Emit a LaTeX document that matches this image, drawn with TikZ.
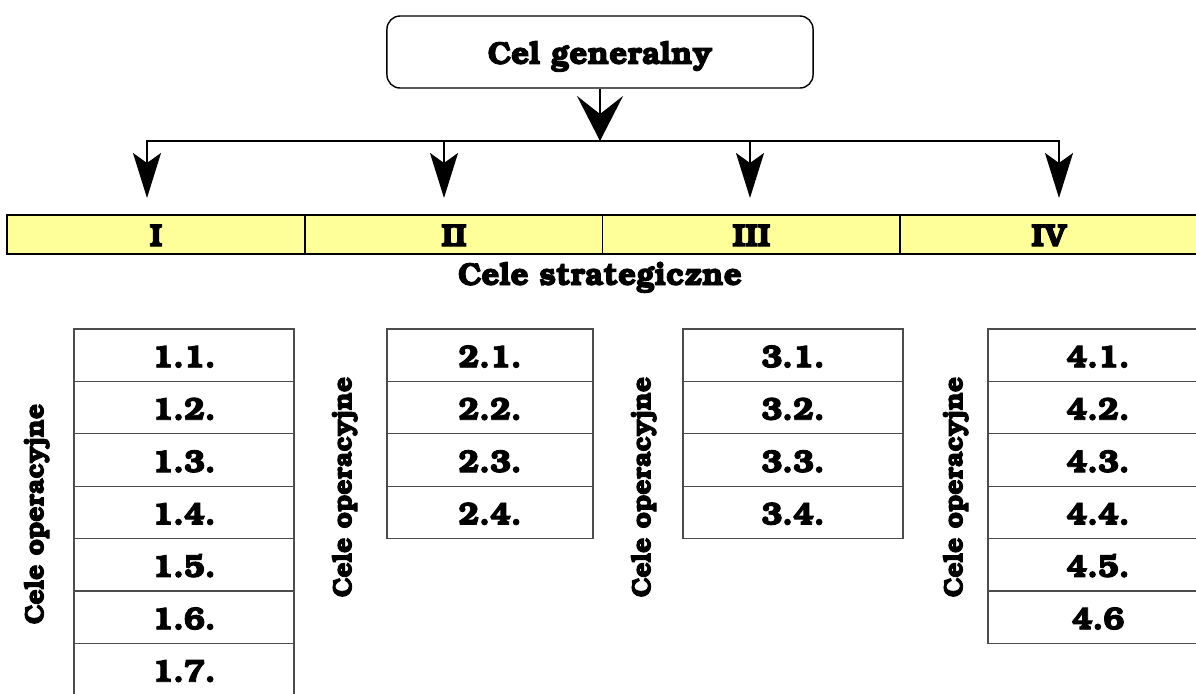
\documentclass[tikz,border=0pt]{standalone}
\usepackage[T1]{fontenc}
\usepackage{bookman}
\usepackage{xcolor}
\usetikzlibrary{arrows.meta, positioning, calc}

\definecolor{stratyellow}{RGB}{255,255,153}

\begin{document}
\begin{tikzpicture}[x=0.025cm, y=-0.025cm,
    font=\bfseries\fontsize{22.5}{27}\selectfont,
    heavy/.style={execute at begin node={\special{pdf:literal direct 2 Tr 0.6 w}}, execute at end node={\special{pdf:literal direct 0 Tr}}},
    every node/.append style={heavy},
    goalbox/.style={draw, line width=1pt, rounded corners=0.33cm, minimum width=10.65cm, minimum height=1.8cm, text height=22pt, text depth=5pt},
    stratcell/.style={draw, fill=stratyellow, line width=1.2pt, minimum width=7.45cm, minimum height=0.975cm, inner sep=0pt, text height=16.6pt, text depth=0pt},
    opcell/.style={draw=black!70, line width=0.8pt, minimum height=1.31cm, inner sep=0pt, text height=17.2pt, text depth=0pt},
    oplabel/.style={rotate=90, font=\bfseries\fontsize{19}{23}\selectfont},
    mainarrow/.style={line width=1.4pt, -{Stealth[length=1.125cm, width=1.15cm, inset=0.45cm]}},
    branch/.style={line width=1.4pt, -{Stealth[length=1.125cm, width=0.7cm, inset=0.25cm]}}
  ]
				\useasboundingbox (0,0) rectangle (1196,693);
				\clip (0,0) rectangle (1196,693);
				
				% General goal
				\node[goalbox] (gen) at (600,52) {Cel generalny};
				\coordinate (hub) at (600,141);
				\draw[mainarrow] (gen.south) -- (hub);
				
				% Branches
				\foreach \x [count=\i] in {147,444,750,1059} {
					\coordinate (b\i) at (\x,141);
					\coordinate (t\i) at (\x,198);
				}
				\draw[line width=1.4pt, line cap=rect] (b1) -- (b4);
				\foreach \i in {1,2,3,4} {
					\draw[branch] (b\i) -- (t\i);
				}
				
				% Strategic goals
				\foreach \t/\x [count=\i] in {I/156,II/454,III/751.5,IV/1049} {
					\node[stratcell] (s\i) at (\x,234.5) {\t};
				}
				\node[anchor=base] (strat) at (600,285) {Cele strategiczne};
				
				% Operational goals
				\foreach \t [count=\r] in {1.1.,1.2.,1.3.,1.4.,1.5.,1.6.,1.7.} {
					\node[opcell, minimum width=5.5cm] (a\r) at (184,{329+52.4*(\r-0.5)}) {\t};
				}
				\foreach \t [count=\r] in {2.1.,2.2.,2.3.,2.4.} {
					\node[opcell, minimum width=5.15cm] (b\r) at (490,{329+52.4*(\r-0.5)}) {\t};
				}
				\foreach \t [count=\r] in {3.1.,3.2.,3.3.,3.4.} {
					\node[opcell, minimum width=5.5cm] (c\r) at (793,{329+52.4*(\r-0.5)}) {\t};
				}
				\foreach \t [count=\r] in {4.1.,4.2.,4.3.,4.4.,4.5.,4.6} {
					\node[opcell, minimum width=5.5cm] (d\r) at (1098,{329+52.4*(\r-0.5)}) {\t};
				}
				
				% Side labels
				\node[oplabel] (la) at (37,514) {Cele operacyjne};
				\node[oplabel] (lb) at (345,487) {Cele operacyjne};
				\node[oplabel] (lc) at (644,487) {Cele operacyjne};
				\node[oplabel] (ld) at (956,487) {Cele operacyjne};
			\end{tikzpicture}
\end{document}
